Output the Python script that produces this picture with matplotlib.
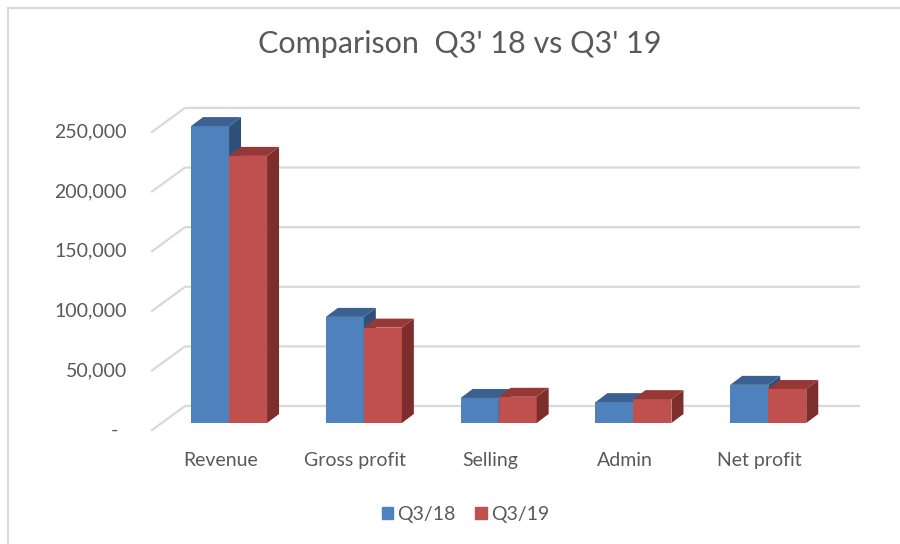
#********* 3D-LOOKING CLUSTERED COLUMNS (EXCEL STYLE) *********

import matplotlib
matplotlib.use('Agg')
import matplotlib.pyplot as plt
from matplotlib.patches import Polygon, Rectangle, Patch

#chart data
categories = ['Revenue', 'Gross profit', 'Selling', 'Admin', 'Net profit']
q3_18 = [249000, 89000, 21000, 17500, 32000]
q3_19 = [224000, 80000, 22000, 20000, 28500]
series_names = ['Q3/18', 'Q3/19']
yticks = [0, 50000, 100000, 150000, 200000, 250000]
ytick_labels = ['-', '50,000', '100,000', '150,000', '200,000', '250,000']
title = "Comparison  Q3' 18 vs Q3' 19"

plt.rcParams['font.family'] = ['Lato', 'DejaVu Sans']
txt = '#595959'
grid = '#D9D9D9'
blue = ['#4F81BD', '#3A6191', '#2F5078']   #front, top, side
red = ['#C0504D', '#963835', '#7D2E2C']

fig = plt.figure(figsize=(9, 5.44), dpi=100)
ax = fig.add_axes([0.1796, 0.2224, 0.7489, 0.5699])
ax.set_xlim(-0.5, 4.5)
ax.set_ylim(0, 260000)
ax.axis('off')

#pixel offsets for the fake depth
back = (23.4, 17)
front = (-9.6, -7)
depth = (12, 9)


def shift(x, y, dx, dy):
    px, py = ax.transData.transform((x, y))
    return tuple(ax.transData.inverted().transform((px + dx, py + dy)))


#gridlines on back wall + left wall, labels at the front
for v, lab in zip(yticks, ytick_labels):
    p0 = shift(-0.5, v, *front)
    p1 = shift(-0.5, v, *back)
    p2 = shift(4.5, v, *back)
    ax.plot([p0[0], p1[0], p2[0]], [p0[1], p1[1], p2[1]], color=grid,
            lw=1.6, zorder=1, clip_on=False)
    extra = 9 if v == 0 else 0
    lp = shift(-0.5, v, front[0] - 25 - extra, front[1])
    ax.text(lp[0], lp[1], lab, ha='right', va='center', fontsize=14,
            color=txt, clip_on=False)

#bars
w = 0.282
xs = list(range(len(categories)))
for k, (vals, cols) in enumerate([(q3_18, blue), (q3_19, red)]):
    lefts = [x - w + k * w for x in xs]
    ax.bar(lefts, vals, width=w, align='edge', color=cols[0],
           zorder=3 + k, clip_on=False)
    for x0, h in zip(lefts, vals):
        x1 = x0 + w
        top = [(x0, h), (x1, h), shift(x1, h, *depth), shift(x0, h, *depth)]
        side = [(x1, 0), shift(x1, 0, *depth), shift(x1, h, *depth), (x1, h)]
        ax.add_patch(Polygon(side, closed=True, fc=cols[2], ec='none',
                             zorder=3 + k, clip_on=False))
        ax.add_patch(Polygon(top, closed=True, fc=cols[1], ec='none',
                             zorder=3 + k, clip_on=False))

#category labels
for x, name in zip(xs, categories):
    lp = shift(x, 0, front[0] + 1, front[1] - 30)
    ax.text(lp[0], lp[1], name, ha='center', va='center', fontsize=14,
            color=txt, clip_on=False)

fig.text(0.511, 1 - 44 / 544, title, ha='center', va='center',
         fontsize=22, color=txt)

handles = [Patch(color=blue[0]), Patch(color=red[0])]
fig.legend(handles, series_names, loc='center', bbox_to_anchor=(0.517, 0.055),
           ncol=2, frameon=False, fontsize=14, handlelength=0.6,
           handleheight=0.6, handletextpad=0.2, columnspacing=1.0,
           labelcolor=txt)

#chart border (cut off on right and bottom)
fig.add_artist(Rectangle((8 / 900, -0.05), 1.1, (544 - 8) / 544 + 0.05,
                         transform=fig.transFigure, fill=False, ec=grid, lw=1.5))

fig.savefig('out.png', dpi=100)
